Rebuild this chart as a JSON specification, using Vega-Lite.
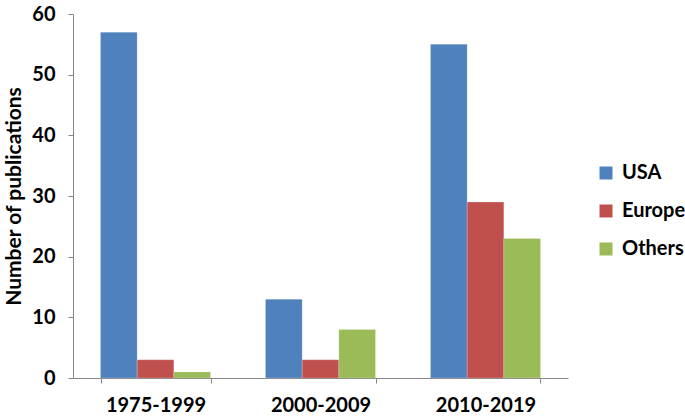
{
  "$schema": "https://vega.github.io/schema/vega-lite/v6.json",
  "autosize": {"type": "none"},
  "padding": {"left": 73, "top": 14, "right": 117, "bottom": 42},
  "width": 495,
  "height": 364,
  "background": "white",
  "config": {
    "font": "Lato",
    "view": {"stroke": null},
    "axis": {"grid": false, "domainColor": "#868686", "tickColor": "#868686", "labelColor": "black", "labelFontWeight": "bold", "labelFontSize": 20, "titleFontWeight": "bold", "titleColor": "black"}
  },
  "data": {
    "values": [
      {"period": "1975-1999", "region": "USA", "count": 57},
      {"period": "1975-1999", "region": "Europe", "count": 3},
      {"period": "1975-1999", "region": "Others", "count": 1},
      {"period": "2000-2009", "region": "USA", "count": 13},
      {"period": "2000-2009", "region": "Europe", "count": 3},
      {"period": "2000-2009", "region": "Others", "count": 8},
      {"period": "2010-2019", "region": "USA", "count": 55},
      {"period": "2010-2019", "region": "Europe", "count": 29},
      {"period": "2010-2019", "region": "Others", "count": 23}
    ]
  },
  "mark": {"type": "bar", "strokeWidth": 0.5, "stroke": "white", "strokeOpacity": 0.4},
  "encoding": {
    "x": {
      "field": "period", "type": "nominal", "title": null,
      "scale": {"paddingInner": 0.3333, "paddingOuter": 0.1667},
      "axis": {"labelAngle": 0, "tickBand": "extent", "tickSize": 5, "labelPadding": 12}
    },
    "xOffset": {"field": "region", "type": "nominal", "sort": ["USA", "Europe", "Others"], "scale": {"paddingInner": 0, "paddingOuter": 0}},
    "y": {
      "field": "count", "type": "quantitative", "title": "Number of publications",
      "scale": {"domain": [0, 60], "nice": false},
      "axis": {"values": [0, 10, 20, 30, 40, 50, 60], "tickSize": 5, "labelPadding": 13, "titleFontSize": 21, "titlePadding": 7}
    },
    "color": {
      "field": "region", "type": "nominal", "sort": ["USA", "Europe", "Others"], "title": null,
      "scale": {"domain": ["USA", "Europe", "Others"], "range": ["#4F81BD", "#C0504D", "#9BBB59"]},
      "legend": {"orient": "none", "legendX": 523, "legendY": 149, "symbolType": "square", "symbolSize": 169, "symbolStrokeWidth": 0, "labelFontSize": 20, "labelFontWeight": "bold", "labelColor": "black", "rowPadding": 18, "labelOffset": 6, "padding": 0}
    }
  }
}
